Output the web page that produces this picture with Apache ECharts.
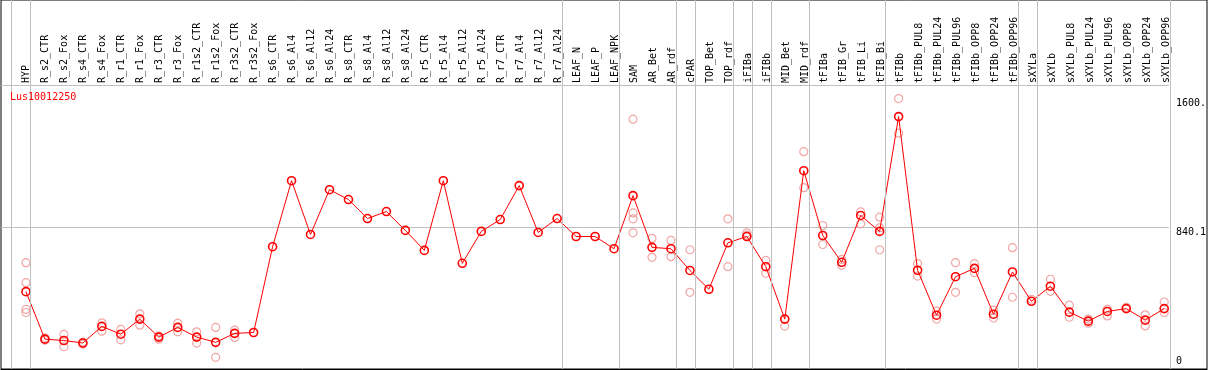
<!DOCTYPE html>
<html>
<head>
<meta charset="utf-8">
<script src="https://cdn.jsdelivr.net/npm/echarts@6/dist/echarts.min.js"></script>
<style>
html,body{margin:0;padding:0;background:#fff;}
#chart{width:1209px;height:370px;}
</style>
</head>
<body>
<div id="chart"></div>
<script>
var chartTitle = 'Lus10012250';
var categories = ['HYP','R_s2_CTR','R_s2_Fox','R_s4_CTR','R_s4_Fox','R_r1_CTR','R_r1_Fox','R_r3_CTR','R_r3_Fox','R_r1s2_CTR','R_r1s2_Fox','R_r3s2_CTR','R_r3s2_Fox','R_s6_CTR','R_s6_Al4','R_s6_Al12','R_s6_Al24','R_s8_CTR','R_s8_Al4','R_s8_Al12','R_s8_Al24','R_r5_CTR','R_r5_Al4','R_r5_Al12','R_r5_Al24','R_r7_CTR','R_r7_Al4','R_r7_Al12','R_r7_Al24','LEAF_N','LEAF_P','LEAF_NPK','SAM','AR_Bet','AR_rdf','cPAR','TOP_Bet','TOP_rdf','iFIBa','iFIBb','MID_Bet','MID_rdf','tFIBa','tFIB_Gr','tFIB_Li','tFIB_Bi','tFIBb','tFIBb_PUL8','tFIBb_PUL24','tFIBb_PUL96','tFIBb_OPP8','tFIBb_OPP24','tFIBb_OPP96','sXYLa','sXYLb','sXYLb_PUL8','sXYLb_PUL24','sXYLb_PUL96','sXYLb_OPP8','sXYLb_OPP24','sXYLb_OPP96'];
var meanValues = [462,182,174,159,257,211,300,194,251,194,163,216,221,727,1116,799,1063,1005,893,934,823,705,1116,629,817,887,1087,811,893,787,787,715,1028,723,715,587,476,750,787,609,300,1175,793,635,911,817,1494,588,323,550,599,329,578,405,494,341,288,345,362,294,362];
var replicateValues = [[633,515,358,339],[188,176],[210,137],[164,153],[278,229],[239,178],[331,264],[202,182],[276,225],[225,159],[251,75],[235,192],[],[],[],[],[],[],[],[],[],[],[],[],[],[],[],[],[],[],[],[],[1479,926,891,809],[776,664],[764,668],[709,458],[],[891,609],[809,795],[646,570],[259],[1287,1075],[852,740],[652,617],[932,862],[901,709,838],[1600.4,1396],[627,554],[300,347],[633,458],[627,574],[353,306],[721,429],[417],[535,464],[382,311],[300,276],[319,358],[370],[325,260],[401,339]];
var groupEnds = [-1,0,28,31,34,35,37,38,39,41,45,52,53,60];
var yTickLabels = [840.1, 1600.4];
var yZeroLabel = [0];
var yMax = 1680.2;

var mono = 'DejaVu Sans Mono';
var step = 19, firstX = 26;
function xv(px){ return (px - firstX) / step; }

var repData = [];
replicateValues.forEach(function(arr,i){ arr.forEach(function(v){ repData.push([i,v]); }); });
var meanData = meanValues.map(function(v,i){ return [i,v]; });

var chart = echarts.init(document.getElementById('chart'), null, {renderer:'canvas'});
chart.setOption({
  animation:false,
  backgroundColor:'#fff',
  title:{text:chartTitle,left:10,top:92,padding:0,textStyle:{color:'#ff0000',fontSize:10,fontFamily:mono,fontWeight:'normal'}},
  grid:[
    {left:1,right:2,top:0,bottom:1,show:true,borderColor:'#000',borderWidth:1,backgroundColor:'transparent'},
    {left:1,right:38.3,top:85,bottom:-1,show:false},
    {left:16.5,right:33.5,top:85,height:1,show:false},
    {left:1,right:2,top:85,bottom:1,show:false}
  ],
  xAxis:[
    {gridIndex:0,type:'value',min:xv(1),max:xv(1207),show:false},
    {gridIndex:1,type:'value',min:xv(1),max:xv(1170.7),show:false},
    {gridIndex:2,type:'category',data:categories,position:'top',boundaryGap:true,
      axisLine:{show:false},axisTick:{show:false},splitLine:{show:false},
      axisLabel:{rotate:90,interval:0,margin:2,fontSize:10,fontFamily:mono,color:'#000'}},
    {gridIndex:3,type:'value',min:0,max:1,position:'top',axisLine:{show:true,lineStyle:{color:'#000',width:1}},
      axisTick:{show:false},axisLabel:{show:false},splitLine:{show:false}}
  ],
  yAxis:[
    {gridIndex:0,type:'value',min:0,max:1,show:false},
    {gridIndex:1,type:'value',min:0,max:yMax,interval:yMax/2,position:'right',
      axisLine:{show:false},axisTick:{show:false},
      splitLine:{show:true,lineStyle:{color:'#c0c0c0',width:1}},
      axisLabel:{customValues:yTickLabels,margin:7,align:'left',verticalAlign:'top',fontSize:10,fontFamily:mono,color:'#000',
        formatter:function(v){ return String(v).slice(0,5); }}},
    {gridIndex:1,type:'value',min:0,max:yMax,position:'right',
      axisLine:{show:false},axisTick:{show:false},splitLine:{show:false},
      axisLabel:{customValues:yZeroLabel,margin:7,align:'left',verticalAlign:'bottom',padding:[0,0,4,0],fontSize:10,fontFamily:mono,color:'#000',
        formatter:function(v){ return String(v).slice(0,5); }}},
    {gridIndex:2,type:'value',show:false},
    {gridIndex:3,type:'value',show:false}
  ],
  series:[
    {type:'line',xAxisIndex:0,yAxisIndex:0,data:[],silent:true,
      markLine:{silent:true,symbol:'none',label:{show:false},animation:false,
        lineStyle:{color:'#c0c0c0',type:'solid',width:1},
        data:groupEnds.map(function(k){ return {xAxis:k+0.24}; })}},
    {type:'scatter',xAxisIndex:1,yAxisIndex:1,data:repData,symbol:'circle',symbolSize:8,silent:true,
      itemStyle:{color:'rgba(255,255,255,0)',borderColor:'#ee9090',borderWidth:1.2}},
    {type:'line',xAxisIndex:1,yAxisIndex:1,data:meanData,symbol:'circle',symbolSize:8,showAllSymbol:true,silent:true,
      lineStyle:{color:'#ff0000',width:1},
      itemStyle:{color:'rgba(255,255,255,0)',borderColor:'#ff0000',borderWidth:1.6}}
  ]
});
</script>
</body>
</html>
